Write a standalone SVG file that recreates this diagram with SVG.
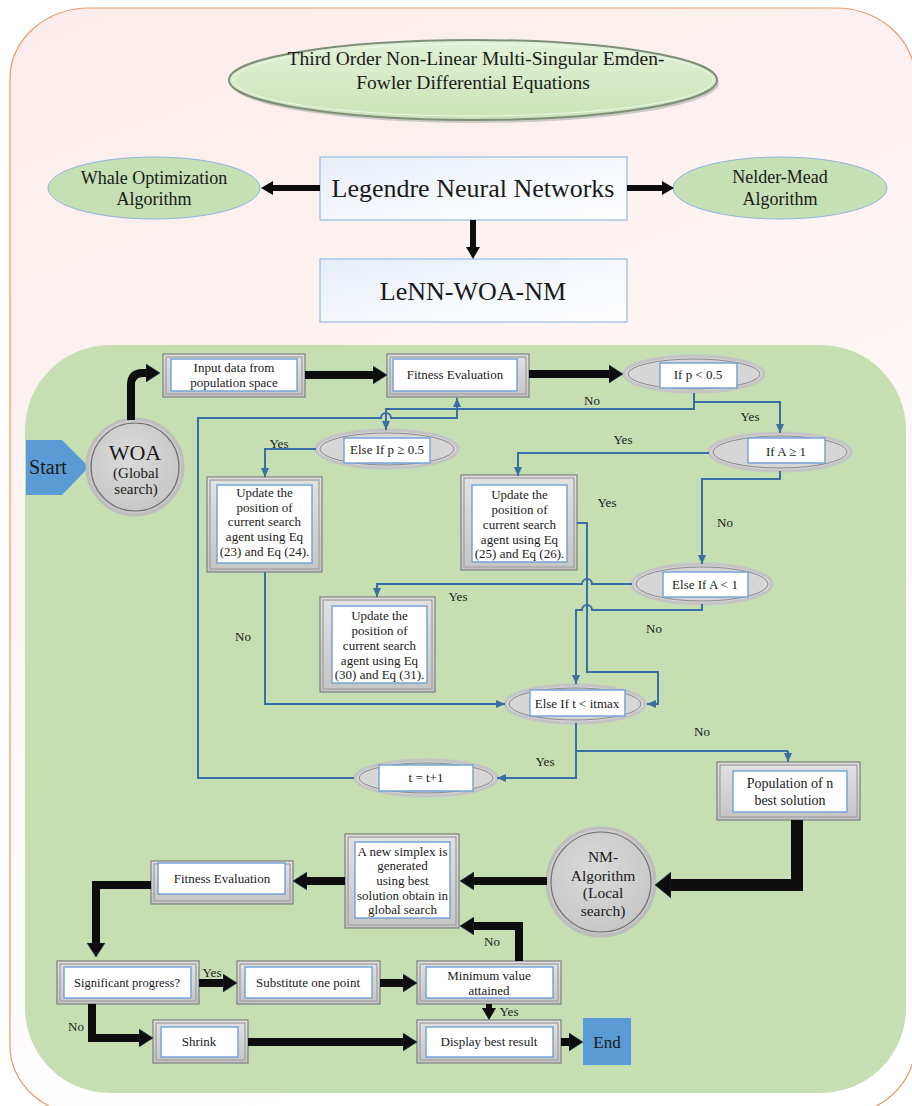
<svg xmlns="http://www.w3.org/2000/svg" width="912" height="1106" viewBox="0 0 912 1106">
<defs>
<linearGradient id="bgGrad" x1="0" y1="0" x2="0.3" y2="1">
<stop offset="0" stop-color="#fbeceb"/><stop offset="0.5" stop-color="#fdf5f4"/><stop offset="1" stop-color="#ffffff"/>
</linearGradient>
<linearGradient id="titleGrad" x1="0" y1="0" x2="0" y2="1">
<stop offset="0" stop-color="#e2f1d7"/><stop offset="1" stop-color="#c9e3b8"/>
</linearGradient>
<linearGradient id="blueBox" x1="0" y1="0" x2="1" y2="1">
<stop offset="0" stop-color="#e6edf8"/><stop offset="0.6" stop-color="#f7f9fd"/><stop offset="1" stop-color="#ffffff"/>
</linearGradient>
<linearGradient id="grayGrad" x1="0" y1="0" x2="0" y2="1">
<stop offset="0" stop-color="#e2e2e2"/><stop offset="1" stop-color="#c4c4c4"/>
</linearGradient>
<radialGradient id="circGrad" cx="0.45" cy="0.4" r="0.6">
<stop offset="0" stop-color="#dadada"/><stop offset="1" stop-color="#c6c6c6"/>
</radialGradient>
<marker id="ahK" markerUnits="userSpaceOnUse" markerWidth="14" markerHeight="18" refX="0" refY="9" orient="auto"><path d="M0,0 L14,9 L0,18 z" fill="#0d0d0d" stroke="#1f3a5f" stroke-width="0.6"/></marker>
<marker id="ahKL" markerUnits="userSpaceOnUse" markerWidth="16" markerHeight="26" refX="0" refY="13" orient="auto"><path d="M0,0 L16,13 L0,26 z" fill="#0d0d0d" stroke="#1f3a5f" stroke-width="0.6"/></marker>
<marker id="ahKS" markerUnits="userSpaceOnUse" markerWidth="12" markerHeight="14" refX="0" refY="7" orient="auto"><path d="M0,0 L12,7 L0,14 z" fill="#0d0d0d"/></marker>
<marker id="ahB" markerUnits="userSpaceOnUse" markerWidth="9" markerHeight="8" refX="9" refY="4" orient="auto"><path d="M0,0 L9,4 L0,8 z" fill="#3a6ea5"/></marker>
<style>
.t{font-family:"Liberation Serif","Times New Roman",serif;fill:#1a1a1a;text-anchor:middle}
.s13{font-size:13px}
.s14{font-size:14px}
.lbl{font-family:"Liberation Serif","Times New Roman",serif;fill:#1a1a1a;font-size:13px;text-anchor:middle}
.fo{fill:url(#grayGrad);stroke:#7f7f7f;stroke-width:1.2}
.fm{fill:none;stroke:#a8a8a8;stroke-width:1.5}
.fi{fill:#ffffff;stroke:#6fa0d8;stroke-width:1.4}
.ge{fill:#d6d6d6;stroke:#c4c4c4;stroke-width:3}
.gi{fill:none;stroke:#8a8a8a;stroke-width:1}
.gre{fill:#c5e0b4;stroke:#8fb4de;stroke-width:1}
.bb{fill:url(#blueBox);stroke:#9dbfe3;stroke-width:1.3}
.thin{fill:none;stroke:#3a6ea5;stroke-width:2;marker-end:url(#ahB)}
.thinn{fill:none;stroke:#3a6ea5;stroke-width:2}
.thick{fill:none;stroke:#0d0d0d;stroke-width:8;marker-end:url(#ahK)}
.thickS{fill:none;stroke:#0d0d0d;stroke-width:6;marker-end:url(#ahKS)}
.thickL{fill:none;stroke:#0d0d0d;stroke-width:12;marker-end:url(#ahKL)}
</style>
</defs>

<!-- background frame -->
<rect x="10" y="8" width="905" height="1108" rx="80" ry="70" fill="url(#bgGrad)" stroke="#e39a6a" stroke-width="1.2"/>
<!-- green panel -->
<rect x="25" y="345" width="881" height="748" rx="85" ry="85" fill="#c5dfb3"/>

<!-- title -->
<g id="title">
<ellipse cx="475" cy="83" rx="244" ry="40" fill="#9aa39a" opacity="0.5"/>
<ellipse cx="473" cy="80" rx="244" ry="40" fill="url(#titleGrad)" stroke="#7e8f78" stroke-width="2"/>
<ellipse cx="473" cy="80" rx="240" ry="36" fill="none" stroke="#eef6e8" stroke-width="1"/>
<text class="t" x="476" y="65" font-size="19.5">Third Order Non-Linear Multi-Singular Emden-</text>
<text class="t" x="473" y="89" font-size="19.5">Fowler Differential Equations</text>
</g>

<g id="legendre">
<rect class="bb" x="320" y="157" width="307" height="63"/>
<text class="t" x="473" y="197" font-size="26">Legendre Neural Networks</text>
</g>
<g id="woa-alg">
<ellipse class="gre" cx="154" cy="188" rx="106" ry="31"/>
<text class="t" x="154" y="184" font-size="18">Whale Optimization</text>
<text class="t" x="154" y="205" font-size="18">Algorithm</text>
</g>
<g id="nm-alg">
<ellipse class="gre" cx="780" cy="188" rx="107" ry="31"/>
<text class="t" x="780" y="183" font-size="18">Nelder-Mead</text>
<text class="t" x="780" y="205" font-size="18">Algorithm</text>
</g>
<g id="lenn">
<rect class="bb" x="320" y="259" width="307" height="63"/>
<text class="t" x="473" y="300" font-size="26">LeNN-WOA-NM</text>
</g>

<g id="start">
<path d="M26,440 L62,440 L89,467 L62,495 L26,495 z" fill="#5b9bd5"/>
<text x="48" y="474" font-family="Liberation Serif, serif" font-size="20" fill="#1a1a1a" text-anchor="middle">Start</text>
</g>
<g id="woa">
<circle cx="135" cy="467" r="48" fill="url(#circGrad)" stroke="#bdbdbd" stroke-width="3"/>
<circle cx="135" cy="467" r="44" fill="none" stroke="#6e6e6e" stroke-width="1.2"/>
<text class="t" x="135" y="460" font-size="22">WOA</text>
<text class="t" x="136" y="478" font-size="15">(Global</text>
<text class="t" x="136" y="494" font-size="15">search)</text>
</g>

<g id="input">
<rect class="fo" x="163" y="354" width="142" height="43"/>
<rect class="fm" x="166" y="357" width="136" height="37"/>
<rect class="fi" x="171" y="359" width="126" height="32"/>
<text class="t s13" x="234" y="372">Input data from</text>
<text class="t s13" x="234" y="387">population space</text>
</g>
<g id="fitness1">
<rect class="fo" x="387" y="354" width="142" height="43"/>
<rect class="fm" x="390" y="357" width="136" height="37"/>
<rect class="fi" x="393" y="359" width="124" height="32"/>
<text class="t s13" x="455" y="379">Fitness Evaluation</text>
</g>
<g id="ifp">
<ellipse class="ge" cx="694" cy="374" rx="70" ry="18"/>
<ellipse class="gi" cx="694" cy="374" rx="66" ry="15"/>
<rect class="fi" x="660" y="363" width="77" height="25"/>
<text class="t s13" x="698" y="379">If p &lt; 0.5</text>
</g>
<g id="elsep">
<ellipse class="ge" cx="387" cy="449" rx="71" ry="19"/>
<ellipse class="gi" cx="387" cy="449" rx="67" ry="16"/>
<rect class="fi" x="344" y="438" width="86" height="25"/>
<text class="t s13" x="387" y="454">Else If p ≥ 0.5</text>
</g>
<g id="ifa">
<ellipse class="ge" cx="780" cy="452" rx="71" ry="19"/>
<ellipse class="gi" cx="780" cy="452" rx="67" ry="16"/>
<rect class="fi" x="748" y="438" width="77" height="25"/>
<text class="t s13" x="786" y="456">If A ≥ 1</text>
</g>
<g id="update1">
<rect class="fo" x="207" y="477" width="115" height="95"/>
<rect class="fm" x="210" y="480" width="109" height="89"/>
<rect class="fi" x="217" y="485" width="95" height="78"/>
<text class="t s13" x="264.5" y="497">Update the</text>
<text class="t s13" x="264.5" y="511.5">position of</text>
<text class="t s13" x="264.5" y="526">current search</text>
<text class="t s13" x="264.5" y="541">agent using Eq</text>
<text class="t s13" x="264.5" y="555.5">(23) and Eq (24).</text>
</g>
<g id="update2">
<rect class="fo" x="461" y="475" width="116" height="95"/>
<rect class="fm" x="464" y="478" width="110" height="89"/>
<rect class="fi" x="472" y="485" width="95" height="77"/>
<text class="t s13" x="519.5" y="498.5">Update the</text>
<text class="t s13" x="519.5" y="513.5">position of</text>
<text class="t s13" x="519.5" y="528.5">current search</text>
<text class="t s13" x="519.5" y="543.5">agent using Eq</text>
<text class="t s13" x="519.5" y="557.5">(25) and Eq (26).</text>
</g>
<g id="elsea">
<ellipse class="ge" cx="702" cy="584" rx="70" ry="20"/>
<ellipse class="gi" cx="702" cy="584" rx="66" ry="17"/>
<rect class="fi" x="663" y="572" width="85" height="25"/>
<text class="t s13" x="705" y="589">Else If A &lt; 1</text>
</g>
<g id="update3">
<rect class="fo" x="320" y="597" width="115" height="95"/>
<rect class="fm" x="323" y="600" width="109" height="89"/>
<rect class="fi" x="332" y="606" width="95" height="77"/>
<text class="t s13" x="379.5" y="619.5">Update the</text>
<text class="t s13" x="379.5" y="634.5">position of</text>
<text class="t s13" x="379.5" y="649.5">current search</text>
<text class="t s13" x="379.5" y="664.5">agent using Eq</text>
<text class="t s13" x="379.5" y="678.5">(30) and Eq (31).</text>
</g>
<g id="elset">
<ellipse class="ge" cx="575" cy="704" rx="70" ry="19"/>
<ellipse class="gi" cx="575" cy="704" rx="66" ry="16"/>
<rect class="fi" x="530" y="690" width="95" height="26"/>
<text class="t s13" x="577" y="708">Else If t &lt; itmax</text>
</g>
<g id="tinc">
<ellipse class="ge" cx="426" cy="778" rx="71" ry="18"/>
<ellipse class="gi" cx="426" cy="778" rx="67" ry="15"/>
<rect class="fi" x="379" y="765" width="94" height="26"/>
<text class="t s13" x="426" y="782">t = t+1</text>
</g>
<g id="population">
<rect class="fo" x="717" y="762" width="143" height="58"/>
<rect class="fm" x="720" y="765" width="137" height="52"/>
<rect class="fi" x="733" y="771" width="114" height="41"/>
<text class="t s14" x="790" y="788">Population of n</text>
<text class="t s14" x="790" y="805">best solution</text>
</g>
<g id="nm">
<circle cx="601" cy="882" r="54" fill="url(#circGrad)" stroke="#bdbdbd" stroke-width="3"/>
<circle cx="601" cy="882" r="50" fill="none" stroke="#6e6e6e" stroke-width="1.2"/>
<text class="t" x="603" y="862" font-size="15.5">NM-</text>
<text class="t" x="603" y="881" font-size="15.5">Algorithm</text>
<text class="t" x="603" y="898" font-size="15.5">(Local</text>
<text class="t" x="603" y="916" font-size="15.5">search)</text>
</g>
<g id="simplex">
<rect class="fo" x="345" y="834" width="114" height="94"/>
<rect class="fm" x="348" y="837" width="108" height="88"/>
<rect class="fi" x="355" y="842" width="95" height="76"/>
<text class="t s13" x="402.5" y="855.5">A new simplex is</text>
<text class="t s13" x="402.5" y="869.5">generated</text>
<text class="t s13" x="402.5" y="884.5">using best</text>
<text class="t s13" x="402.5" y="899.5">solution obtain in</text>
<text class="t s13" x="402.5" y="913.5">global search</text>
</g>
<g id="fitness2">
<rect class="fo" x="151" y="861" width="142" height="43"/>
<rect class="fm" x="154" y="864" width="136" height="37"/>
<rect class="fi" x="158" y="863" width="127" height="31"/>
<text class="t s13" x="222" y="883">Fitness Evaluation</text>
</g>
<g id="significant">
<rect class="fo" x="57" y="961" width="142" height="43"/>
<rect class="fm" x="60" y="964" width="136" height="37"/>
<rect class="fi" x="64" y="967" width="127" height="31"/>
<text class="t" x="127" y="987" font-size="12.5">Significant progress?</text>
</g>
<g id="substitute">
<rect class="fo" x="237" y="961" width="143" height="43"/>
<rect class="fm" x="240" y="964" width="137" height="37"/>
<rect class="fi" x="245" y="967" width="127" height="31"/>
<text class="t s13" x="308" y="987">Substitute one point</text>
</g>
<g id="minimum">
<rect class="fo" x="417" y="961" width="144" height="43"/>
<rect class="fm" x="420" y="964" width="138" height="37"/>
<rect class="fi" x="426" y="967" width="127" height="31"/>
<text class="t s13" x="489" y="980">Minimum value</text>
<text class="t s13" x="489" y="995">attained</text>
</g>
<g id="shrink">
<rect class="fo" x="153" y="1020" width="95" height="43"/>
<rect class="fm" x="156" y="1023" width="89" height="37"/>
<rect class="fi" x="161" y="1027" width="77" height="30"/>
<text class="t s13" x="199" y="1046">Shrink</text>
</g>
<g id="display">
<rect class="fo" x="417" y="1020" width="144" height="43"/>
<rect class="fm" x="420" y="1023" width="138" height="37"/>
<rect class="fi" x="426" y="1027" width="127" height="30"/>
<text class="t s13" x="489" y="1046">Display best result</text>
</g>
<g id="end">
<rect x="583" y="1018" width="48" height="47" fill="#5b9bd5"/>
<text class="t" x="607" y="1048" font-size="17">End</text>
</g>

<g id="connectors">
<path class="thickS" d="M320,188 L273,188"/>
<path class="thickS" d="M627,188 L662,188"/>
<path class="thickS" d="M473,220 L473,247"/>
<path class="thick" d="M131,420 L131,385 Q131,373 143,373 L146,373"/>
<path class="thick" d="M305,375 L373,375"/>
<path class="thick" d="M529,374 L609,374"/>
<path class="thin" d="M694,393 L694,409 L386,409 L386,430"/>
<path class="thin" d="M694,402 L780,402 L780,433"/>
<path class="thin" d="M354,778 L198,778 L198,418 L381,418 A5,5 0 0 1 391,418 L457,418 L457,398"/>
<path class="thin" d="M316,449 L265,449 L265,477"/>
<path class="thin" d="M265,572 L265,704 L505,704"/>
<path class="thin" d="M709,453 L518,453 L518,476"/>
<path class="thin" d="M780,471 L780,479 L702,479 L702,564"/>
<path class="thin" d="M577,523 L587,523 L587,672 L658,672 L658,704 L647,704"/>
<path class="thin" d="M632,584 L592,584 A5,5 0 0 0 582,584 L377,584 L377,597"/>
<path class="thin" d="M702,604 L702,610 L592,610 A5,5 0 0 0 582,610 L576,610 L576,684"/>
<path class="thinn" d="M576,723 L576,751 L788,751"/>
<path class="thin" d="M788,751 L788,762"/>
<path class="thin" d="M576,751 L576,778 L497,778"/>
<path class="thickL" d="M797,820 L797,885 L671,885"/>
<path class="thick" d="M547,881 L474,881"/>
<path class="thick" d="M345,881 L307,881"/>
<path class="thick" d="M151,885 L96,885 L96,943"/>
<path class="thick" d="M199,983 L223,983"/>
<path class="thick" d="M380,983 L403,983"/>
<path class="thick" d="M519,961 L519,926 L474,926"/>
<path class="thickS" d="M489,1004 L489,1008"/>
<path class="thick" d="M92,1004 L92,1038 L139,1038"/>
<path class="thick" d="M248,1042 L403,1042"/>
<path class="thick" d="M561,1042 L569,1042"/>
</g>

<g id="labels">
<text class="lbl" x="592" y="405">No</text>
<text class="lbl" x="750" y="421">Yes</text>
<text class="lbl" x="279" y="448">Yes</text>
<text class="lbl" x="623" y="444">Yes</text>
<text class="lbl" x="607" y="507">Yes</text>
<text class="lbl" x="725" y="527">No</text>
<text class="lbl" x="458" y="601">Yes</text>
<text class="lbl" x="654" y="633">No</text>
<text class="lbl" x="243" y="641">No</text>
<text class="lbl" x="702" y="736">No</text>
<text class="lbl" x="545" y="766">Yes</text>
<text class="lbl" x="212" y="977">Yes</text>
<text class="lbl" x="492" y="946">No</text>
<text class="lbl" x="509" y="1016">Yes</text>
<text class="lbl" x="76" y="1031">No</text>
</g>
</svg>
